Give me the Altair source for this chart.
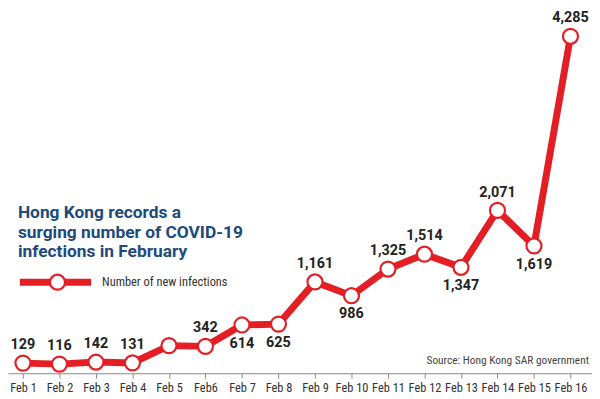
import altair as alt
import pandas as pd

days = ["Feb 1", "Feb 2", "Feb 3", "Feb 4", "Feb 5", "Feb6", "Feb 7", "Feb 8",
        "Feb 9", "Feb 10", "Feb 11", "Feb 12", "Feb 13", "Feb 14", "Feb 15", "Feb 16"]
cases = [129, 116, 142, 131, 351, 342, 614, 625, 1161, 986, 1325, 1514, 1347, 2071, 1619, 4285]
labels = ["129", "116", "142", "131", "", "342", "614", "625", "1,161", "986",
          "1,325", "1,514", "1,347", "2,071", "1,619", "4,285"]
below_days = ["Feb 7", "Feb 8", "Feb 10", "Feb 13", "Feb 15"]

title_lines = ["Hong Kong records a", "surging number of COVID-19", "infections in February"]
legend_label = "Number of new infections"
source_text = "Source: Hong Kong SAR government"

RED = "#e31e24"
BLUE = "#1d4a7c"
FONT = "Roboto"
NARROW = "'Liberation Sans Narrow', 'Roboto Condensed', Roboto"

df = pd.DataFrame({
    "day": days,
    "cases": cases,
    "label": labels,
    "pos": ["below" if d in below_days else "above" for d in days],
})

x = alt.X("day:O", sort=days,
          scale=alt.Scale(type="point", paddingOuter=0.4586, align=0.41),
          axis=alt.Axis(title=None, labelAngle=0))
y = alt.Y("cases:Q", scale=alt.Scale(domain=[0, 4620]), axis=None)

base = alt.Chart(df).encode(x=x, y=y)

line = base.mark_line(color=RED, strokeWidth=7)
pts = base.mark_circle(size=230, fill="white", stroke=RED, strokeWidth=2.2, opacity=1)

lab_above = base.transform_filter(alt.datum.pos == "above").mark_text(
    baseline="bottom", dy=-11, fontSize=14.5, fontWeight="bold", color="#222", font=FONT
).encode(text="label:N")
lab_below = base.transform_filter(alt.datum.pos == "below").mark_text(
    baseline="top", dy=12, fontSize=14.5, fontWeight="bold", color="#222", font=FONT
).encode(text="label:N")

one = pd.DataFrame({"a": [0]})

title = alt.Chart(one).mark_text(
    align="left", baseline="alphabetic", fontSize=17.5, fontWeight="bold",
    color=BLUE, font=FONT, lineHeight=20
).encode(x=alt.value(10), y=alt.value(210), text=alt.value(title_lines))

leg_rule = alt.Chart(one).mark_rule(color=RED, strokeWidth=7).encode(
    x=alt.value(12), x2=alt.value(84), y=alt.value(275))
leg_pt = alt.Chart(one).mark_circle(size=230, fill="white", stroke=RED,
                                    strokeWidth=2.2, opacity=1).encode(
    x=alt.value(50), y=alt.value(275))
leg_txt = alt.Chart(one).mark_text(
    align="left", baseline="middle", fontSize=12.5, color="#333", font=NARROW
).encode(x=alt.value(95), y=alt.value(275), text=alt.value(legend_label))

source = alt.Chart(one).mark_text(
    align="right", baseline="alphabetic", fontSize=11.5, color="#444", font=NARROW
).encode(x=alt.value(587), y=alt.value(358), text=alt.value(source_text))

chart = alt.layer(
    line, pts, lab_above, lab_below, title, leg_rule, leg_pt, leg_txt, source
).properties(
    width=590, height=367, padding=0, background="white"
).configure_view(stroke=None).configure_axis(
    domainColor="#8a8a8a", tickColor="#8a8a8a", labelColor="#333",
    labelFontSize=12.5, labelFont=NARROW, tickSize=5, labelPadding=3, grid=False,
    domainWidth=1.2
)

chart.save("out.html", embed_options={"renderer": "svg", "actions": False})
